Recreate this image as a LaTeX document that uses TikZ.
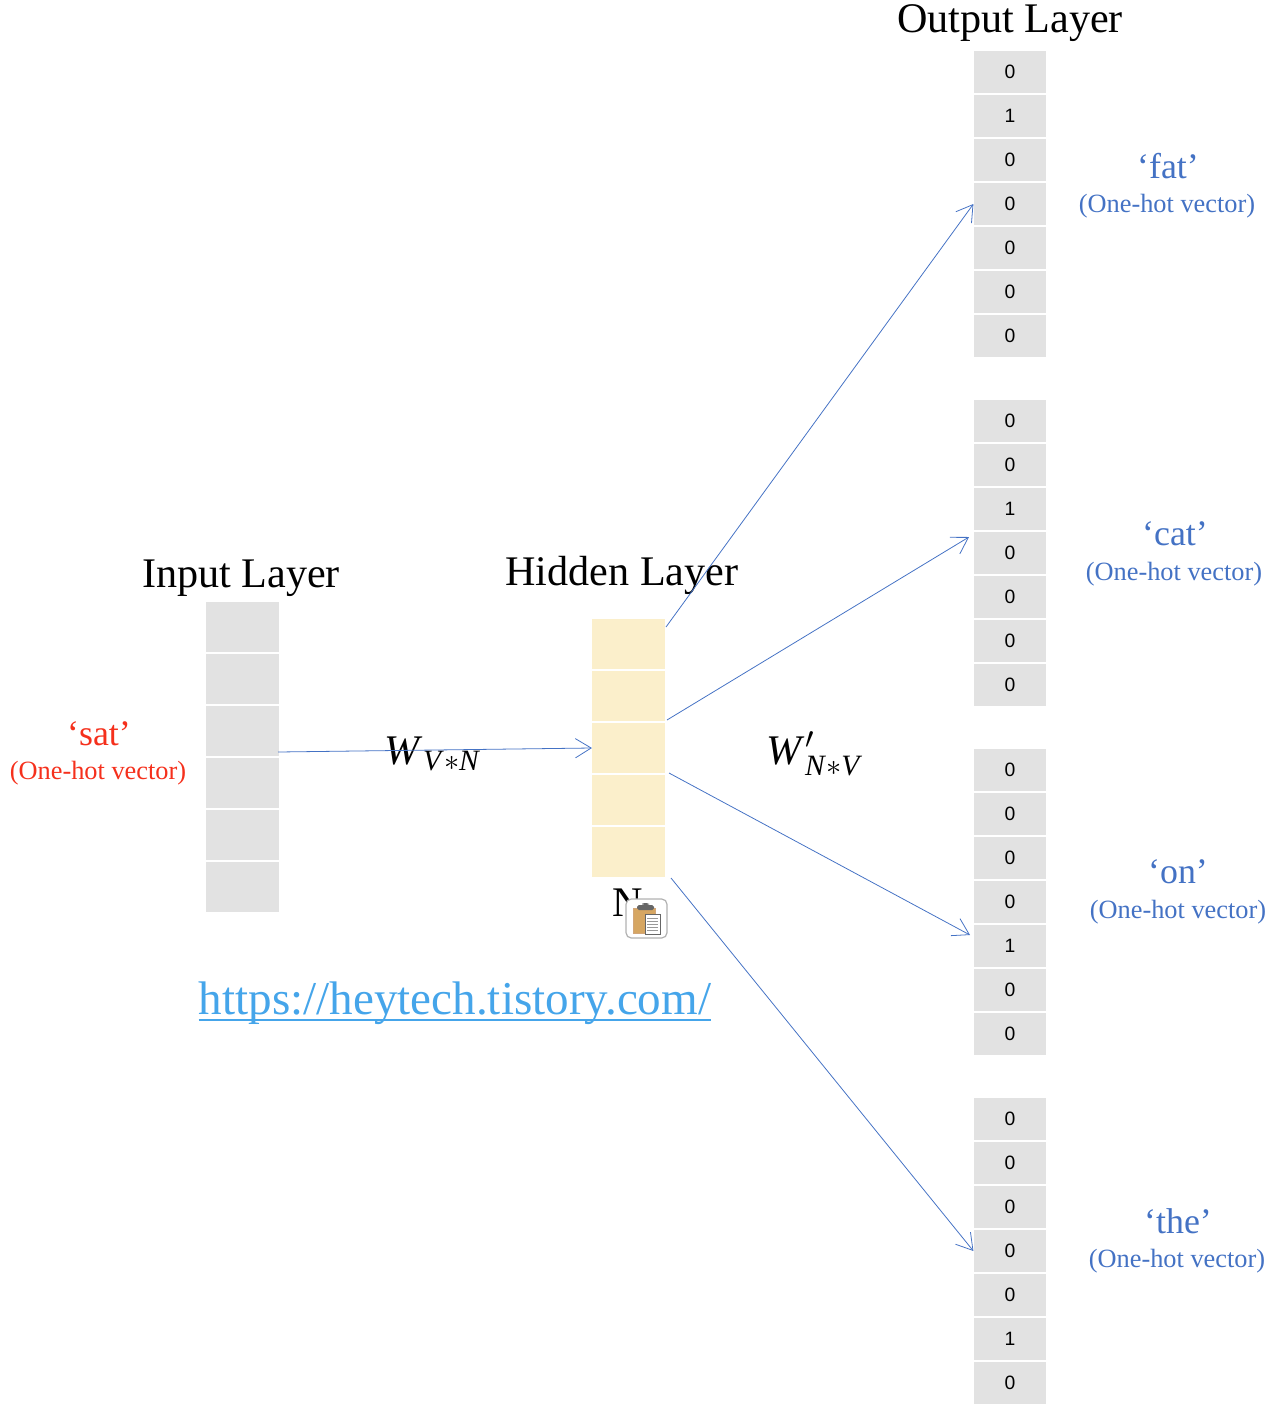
\documentclass[tikz,border=0pt]{standalone}
\usepackage{amsmath}
\usepackage{fontspec}
\setmainfont{Liberation Serif}
\setsansfont{Liberation Sans}
\usetikzlibrary{arrows.meta}
\definecolor{cellgray}{HTML}{E2E2E2}
\definecolor{cellcream}{HTML}{FBEFCB}
\definecolor{wordblue}{HTML}{4472C4}
\definecolor{wordred}{HTML}{F5301C}
\definecolor{linkblue}{HTML}{45A5EA}
\definecolor{cliptan}{HTML}{D6A662}
\newcommand{\itxt}[1]{\text{\textit{#1}}}
\tikzset{
  cell/.style={inner sep=0pt, minimum width=1.45cm, minimum height=0.84cm, fill=cellgray,
    font=\sffamily\fontsize{11}{11}\selectfont},
  incell/.style={cell, minimum height=1cm},
  hidcell/.style={incell, fill=cellcream},
  layer/.style={inner sep=0pt, font=\fontsize{24}{24}\selectfont},
  word/.style={inner sep=0pt, font=\fontsize{20.4}{20}\selectfont},
  onehot/.style={inner sep=0pt, font=\fontsize{15}{16}\selectfont},
  weight/.style={inner sep=0pt, font=\fontsize{24}{24}\selectfont},
  link/.style={-{Straight Barb[length=9pt,width=11pt]}, wordblue, line width=0.45pt},
}
\begin{document}
\begin{tikzpicture}[x=0.02cm, y=-0.02cm]
  \useasboundingbox (0,0) rectangle (1280,1413);
  % output stacks
  \foreach \s/\top/\one in {a/72/2, b/421/3, c/770/5, d/1119/6}
    \foreach \i in {1,...,7} {
      \pgfmathtruncatemacro{\val}{\i==\one ? 1 : 0}
      \node[cell] (\s\i) at (1010,\top+44*\i-44) {\raisebox{-0.5pt}{\val}};
    }
  % input and hidden stacks
  \foreach \i in {1,...,6}
    \node[incell] (in\i) at (242.5,627+52*\i-52) {};
  \foreach \i in {1,...,5}
    \node[hidcell] (hid\i) at (628.5,644+52*\i-52) {};
  \node[layer] (outtitle) at (1010,23.5) {Output Layer};
  \node[layer] (intitle) at (241,578) {Input Layer};
  \node[layer] (hidtitle) at (622,575.5) {Hidden Layer};
  \node[word, text=wordred] (sat) at (99,734) {‘sat’};
  \node[onehot, text=wordred] (sathot) at (98,773) {(One-hot vector)};
  \node[word, text=wordblue] (fat) at (1168,166) {‘fat’};
  \node[onehot, text=wordblue] (fathot) at (1167,206) {(One-hot vector)};
  \node[word, text=wordblue] (cat) at (1175,534) {‘cat’};
  \node[onehot, text=wordblue] (cathot) at (1174,574) {(One-hot vector)};
  \node[word, text=wordblue] (on) at (1178,872) {‘on’};
  \node[onehot, text=wordblue] (onhot) at (1178,912) {(One-hot vector)};
  \node[word, text=wordblue] (the) at (1178,1221) {‘the’};
  \node[onehot, text=wordblue] (thehot) at (1177,1261) {(One-hot vector)};
  \node[weight] (wvn) at (433,754) {$\itxt{W}_{\itxt{V}*\itxt{N}}$};
  \node[weight] (wnv) at (815,754) {$\itxt{W}'_{\itxt{N}*\itxt{V}}$};
  \node[layer] (nlabel) at (628,903) {N};
  \node[inner sep=0pt, text=linkblue, font=\fontsize{26.8}{27}\selectfont] (url) at (455,1003)
    {https://heytech.tistory.com/};
  \draw[linkblue, line width=1pt] ([yshift=-0.12cm]url.base west) -- ([yshift=-0.12cm]url.base east);
  % clipboard
  \draw[fill=white, draw=black!30, line width=0.7pt, rounded corners=3pt] (626,899) rectangle (667,938);
  \draw[fill=cliptan, draw=brown!70, line width=0.3pt] (633,908) rectangle (655,933);
  \fill[black!60, rounded corners=1pt] (637,910) rectangle (654,905) (642,905) rectangle (649,903);
  \draw[fill=white, draw=black!60, line width=0.3pt] (645,914) rectangle (660,934);
  \draw[black!40, line width=0.5pt] (647,918) -- (658,918) (647,921) -- (658,921) (647,924) -- (658,924)
    (647,927) -- (658,927) (647,930) -- (658,930);
  % connectors
  \coordinate (infrom) at (278,752);
  \coordinate (hfrom1) at (666,627);
  \coordinate (hfrom2) at (667,720);
  \coordinate (hfrom3) at (669,773);
  \coordinate (hfrom4) at (671,878);
  \coordinate (bto) at (969,537);
  \coordinate (cto) at (970,935);
  \draw[link] (infrom) -- (hid3.west);
  \draw[link] (hfrom1) -- (a4.west);
  \draw[link] (hfrom2) -- (bto);
  \draw[link] (hfrom3) -- (cto);
  \draw[link] (hfrom4) -- (d4.west);
\end{tikzpicture}
\end{document}
